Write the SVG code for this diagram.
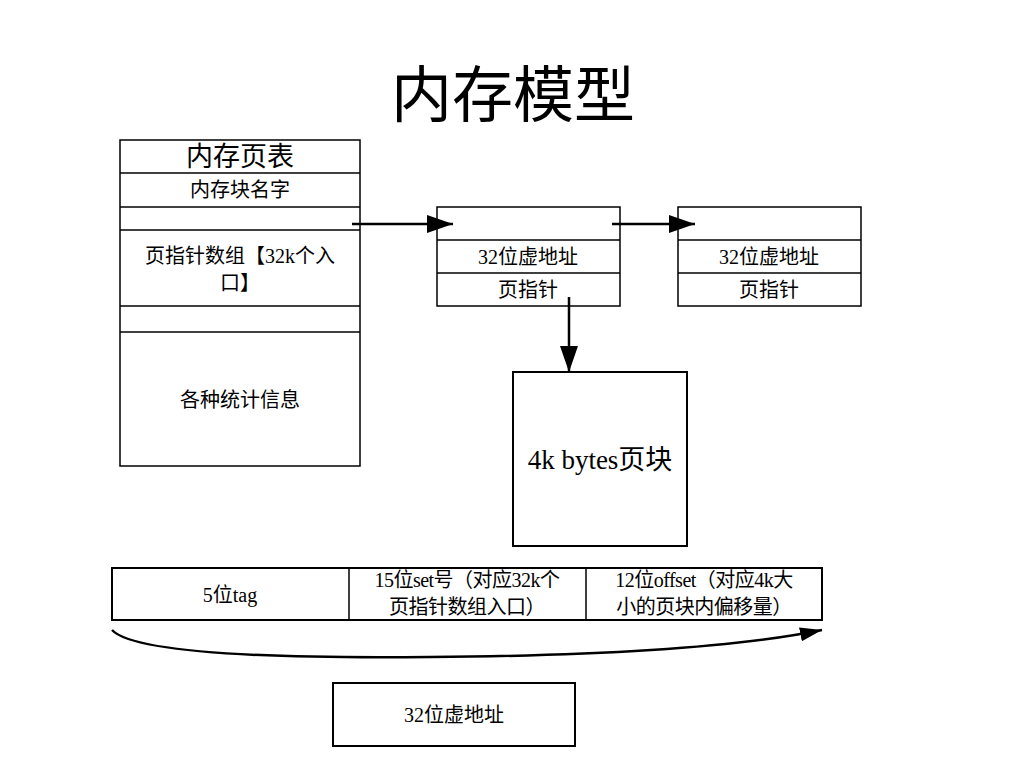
<svg xmlns="http://www.w3.org/2000/svg" width="1024" height="768" viewBox="0 0 1024 768">
<defs>
<style>
text{font-family:"Liberation Serif","Noto Sans CJK SC",serif;fill:#000;text-anchor:middle}
.b{fill:#fff;stroke:#000;stroke-width:1.5}
.l{stroke:#000;stroke-width:1.5}
.c{fill:none;stroke:#000;stroke-width:2.5}
.t{font-size:20px}
.s{font-size:20px;letter-spacing:-0.5px}
</style>
<marker id="ah" markerWidth="26" markerHeight="18" refX="26" refY="9" orient="auto" markerUnits="userSpaceOnUse">
<path d="M0,0 L26,9 L0,18 z" fill="#000"/>
</marker>
<marker id="ah2" markerWidth="22" markerHeight="14" refX="22" refY="7" orient="auto" markerUnits="userSpaceOnUse">
<path d="M0,0 L22,7 L0,14 z" fill="#000"/>
</marker>
</defs>
<rect width="1024" height="768" fill="#fff"/>
<text x="513" y="117" font-size="61">内存模型</text>

<g id="pagetable">
<rect class="b" x="120" y="140" width="240" height="326"/>
<line class="l" x1="120" y1="173" x2="360" y2="173"/>
<line class="l" x1="120" y1="207" x2="360" y2="207"/>
<line class="l" x1="120" y1="230" x2="360" y2="230"/>
<line class="l" x1="120" y1="306" x2="360" y2="306"/>
<line class="l" x1="120" y1="332" x2="360" y2="332"/>
<text x="240" y="166" font-size="27">内存页表</text>
<text class="t" x="240" y="197">内存块名字</text>
<text class="t" x="240" y="263">页指针数组【32k个入</text>
<text class="t" x="240" y="290">口】</text>
<text class="t" x="240" y="407">各种统计信息</text>
</g>

<g id="node1">
<rect class="b" x="437" y="207" width="183" height="99"/>
<line class="l" x1="437" y1="240" x2="620" y2="240"/>
<line class="l" x1="437" y1="273" x2="620" y2="273"/>
<text class="t" x="528" y="264">32位虚地址</text>
<text class="t" x="528" y="297">页指针</text>
</g>

<g id="node2">
<rect class="b" x="678" y="207" width="183" height="99"/>
<line class="l" x1="678" y1="240" x2="861" y2="240"/>
<line class="l" x1="678" y1="273" x2="861" y2="273"/>
<text class="t" x="769" y="264">32位虚地址</text>
<text class="t" x="769" y="297">页指针</text>
</g>

<g id="pageblock">
<rect class="b" x="513" y="372" width="174" height="174" style="stroke-width:2"/>
<text x="600" y="469" font-size="27">4k bytes页块</text>
</g>

<g id="addressbar">
<rect class="b" x="112" y="568" width="710" height="52" style="stroke-width:2"/>
<line class="l" x1="349" y1="568" x2="349" y2="620"/>
<line class="l" x1="586" y1="568" x2="586" y2="620"/>
<text class="t" x="230" y="602">5位tag</text>
<text class="s" x="467" y="587">15位set号（对应32k个</text>
<text class="s" x="467" y="614">页指针数组入口）</text>
<text class="s" x="704" y="587">12位offset（对应4k大</text>
<text class="s" x="704" y="614">小的页块内偏移量）</text>
</g>

<g id="vaddr">
<rect class="b" x="333" y="683" width="242" height="63" style="stroke-width:2"/>
<text class="t" x="454" y="722">32位虚地址</text>
</g>

<g id="connectors">
<line class="c" x1="352" y1="224" x2="453" y2="224" marker-end="url(#ah)"/>
<line class="c" x1="612" y1="224" x2="695" y2="224" marker-end="url(#ah)"/>
<line class="c" x1="569" y1="297" x2="569" y2="372" marker-end="url(#ah)"/>
<path class="c" d="M112,630 Q140,660 430,657 Q700,655 822,630" marker-end="url(#ah2)"/>
</g>
</svg>
